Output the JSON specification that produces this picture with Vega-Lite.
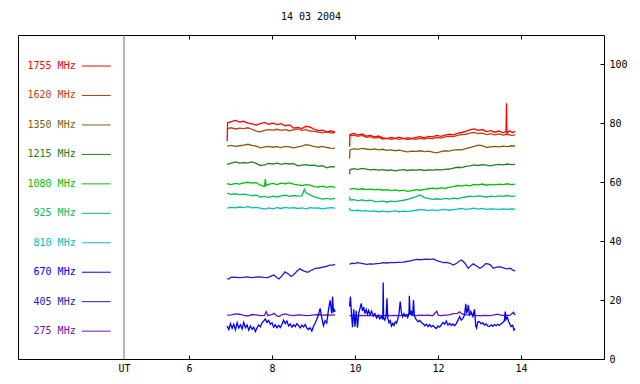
{
"$schema": "https://vega.github.io/schema/vega-lite/v6.json",
"width": 586, "height": 324,
"autosize": "none",
"padding": {"left": 18, "top": 35, "right": 36, "bottom": 25},
"background": "white",
"title": {"text": "14 03 2004", "font": "DejaVu Sans Mono", "fontSize": 10, "fontWeight": "normal", "color": "black", "anchor": "middle", "offset": 13},
"config": {"view": {"stroke": "black", "strokeWidth": 1}, "font": "DejaVu Sans Mono",
  "axis": {"labelFont": "DejaVu Sans Mono", "labelFontSize": 10, "labelColor": "black", "tickColor": "black", "domainColor": "black", "grid": false, "title": null}},
"datasets": {
"legend": [{"f":"1755 MHz"},{"f":"1620 MHz"},{"f":"1350 MHz"},{"f":"1215 MHz"},{"f":"1080 MHz"},{"f":"925 MHz"},{"f":"810 MHz"},{"f":"670 MHz"},{"f":"405 MHz"},{"f":"275 MHz"}],
"radio": [
{"f":"275 MHz","t":6.92,"v":14.9},{"f":"275 MHz","t":7.02,"v":15.0},{"f":"275 MHz","t":7.12,"v":15.3},{"f":"275 MHz","t":7.22,"v":15.2},{"f":"275 MHz","t":7.32,"v":14.8},{"f":"275 MHz","t":7.42,"v":14.6},{"f":"275 MHz","t":7.52,"v":15.1},{"f":"275 MHz","t":7.62,"v":15.0},{"f":"275 MHz","t":7.72,"v":14.7},{"f":"275 MHz","t":7.82,"v":14.8},{"f":"275 MHz","t":7.86,"v":16.1},{"f":"275 MHz","t":7.90,"v":14.8},{"f":"275 MHz","t":8.00,"v":15.1},{"f":"275 MHz","t":8.05,"v":15.5},{"f":"275 MHz","t":8.12,"v":14.6},{"f":"275 MHz","t":8.17,"v":14.4},{"f":"275 MHz","t":8.24,"v":15.0},{"f":"275 MHz","t":8.32,"v":15.3},{"f":"275 MHz","t":8.42,"v":14.9},{"f":"275 MHz","t":8.52,"v":14.7},{"f":"275 MHz","t":8.62,"v":15.0},{"f":"275 MHz","t":8.72,"v":14.9},{"f":"275 MHz","t":8.82,"v":14.7},{"f":"275 MHz","t":8.92,"v":14.8},{"f":"275 MHz","t":9.02,"v":15.0},{"f":"275 MHz","t":9.12,"v":15.1},{"f":"275 MHz","t":9.22,"v":14.9},{"f":"275 MHz","t":9.32,"v":15.0},{"f":"275 MHz","t":9.42,"v":14.9},{"f":"275 MHz","t":9.52,"v":15.0},
{"f":"275 MHz","t":9.7,"v":null},
{"f":"275 MHz","t":9.87,"v":14.7},{"f":"275 MHz","t":9.97,"v":14.8},{"f":"275 MHz","t":10.07,"v":14.7},{"f":"275 MHz","t":10.17,"v":14.8},{"f":"275 MHz","t":10.27,"v":14.7},{"f":"275 MHz","t":10.37,"v":14.8},{"f":"275 MHz","t":10.47,"v":14.7},{"f":"275 MHz","t":10.57,"v":14.8},{"f":"275 MHz","t":10.67,"v":14.7},{"f":"275 MHz","t":10.77,"v":14.8},{"f":"275 MHz","t":10.87,"v":14.7},{"f":"275 MHz","t":10.97,"v":14.8},{"f":"275 MHz","t":11.07,"v":14.7},{"f":"275 MHz","t":11.17,"v":14.8},{"f":"275 MHz","t":11.27,"v":14.9},{"f":"275 MHz","t":11.33,"v":16.0},{"f":"275 MHz","t":11.37,"v":14.8},{"f":"275 MHz","t":11.47,"v":14.7},{"f":"275 MHz","t":11.57,"v":14.9},{"f":"275 MHz","t":11.67,"v":14.8},{"f":"275 MHz","t":11.77,"v":14.9},{"f":"275 MHz","t":11.87,"v":14.7},{"f":"275 MHz","t":11.97,"v":16.2},{"f":"275 MHz","t":12.01,"v":14.8},{"f":"275 MHz","t":12.07,"v":14.7},{"f":"275 MHz","t":12.17,"v":14.9},{"f":"275 MHz","t":12.27,"v":15.0},{"f":"275 MHz","t":12.37,"v":15.4},{"f":"275 MHz","t":12.47,"v":15.5},{"f":"275 MHz","t":12.52,"v":16.0},{"f":"275 MHz","t":12.57,"v":15.4},{"f":"275 MHz","t":12.67,"v":15.0},{"f":"275 MHz","t":12.75,"v":15.1},{"f":"275 MHz","t":12.79,"v":16.2},{"f":"275 MHz","t":12.83,"v":15.0},{"f":"275 MHz","t":12.93,"v":14.7},{"f":"275 MHz","t":13.03,"v":14.7},{"f":"275 MHz","t":13.13,"v":14.8},{"f":"275 MHz","t":13.23,"v":14.7},{"f":"275 MHz","t":13.33,"v":14.9},{"f":"275 MHz","t":13.43,"v":15.2},{"f":"275 MHz","t":13.53,"v":14.8},{"f":"275 MHz","t":13.63,"v":14.9},{"f":"275 MHz","t":13.73,"v":14.8},{"f":"275 MHz","t":13.82,"v":15.9},{"f":"275 MHz","t":13.86,"v":14.9},

{"f":"405 MHz","t":6.92,"v":27.2},{"f":"405 MHz","t":6.97,"v":27.2},{"f":"405 MHz","t":7.00,"v":27.7},{"f":"405 MHz","t":7.10,"v":27.8},{"f":"405 MHz","t":7.20,"v":27.6},{"f":"405 MHz","t":7.30,"v":27.7},{"f":"405 MHz","t":7.40,"v":27.9},{"f":"405 MHz","t":7.50,"v":27.6},{"f":"405 MHz","t":7.60,"v":27.8},{"f":"405 MHz","t":7.70,"v":27.9},{"f":"405 MHz","t":7.80,"v":27.7},{"f":"405 MHz","t":7.90,"v":27.6},{"f":"405 MHz","t":8.00,"v":28.3},{"f":"405 MHz","t":8.05,"v":28.5},{"f":"405 MHz","t":8.12,"v":27.6},{"f":"405 MHz","t":8.17,"v":27.2},{"f":"405 MHz","t":8.24,"v":28.2},{"f":"405 MHz","t":8.31,"v":29.6},{"f":"405 MHz","t":8.38,"v":29.0},{"f":"405 MHz","t":8.46,"v":28.0},{"f":"405 MHz","t":8.52,"v":28.6},{"f":"405 MHz","t":8.60,"v":29.8},{"f":"405 MHz","t":8.67,"v":30.6},{"f":"405 MHz","t":8.76,"v":29.9},{"f":"405 MHz","t":8.86,"v":29.4},{"f":"405 MHz","t":8.96,"v":30.2},{"f":"405 MHz","t":9.05,"v":30.8},{"f":"405 MHz","t":9.14,"v":30.9},{"f":"405 MHz","t":9.22,"v":31.2},{"f":"405 MHz","t":9.30,"v":31.4},{"f":"405 MHz","t":9.39,"v":31.9},{"f":"405 MHz","t":9.46,"v":31.9},{"f":"405 MHz","t":9.52,"v":32.1},
{"f":"405 MHz","t":9.7,"v":null},
{"f":"405 MHz","t":9.87,"v":32.1},{"f":"405 MHz","t":9.93,"v":32.5},{"f":"405 MHz","t":10.00,"v":32.4},{"f":"405 MHz","t":10.04,"v":32.7},{"f":"405 MHz","t":10.10,"v":32.6},{"f":"405 MHz","t":10.16,"v":32.5},{"f":"405 MHz","t":10.22,"v":32.3},{"f":"405 MHz","t":10.28,"v":32.1},{"f":"405 MHz","t":10.36,"v":32.3},{"f":"405 MHz","t":10.44,"v":32.2},{"f":"405 MHz","t":10.52,"v":32.4},{"f":"405 MHz","t":10.60,"v":32.5},{"f":"405 MHz","t":10.68,"v":32.7},{"f":"405 MHz","t":10.76,"v":32.6},{"f":"405 MHz","t":10.85,"v":32.7},{"f":"405 MHz","t":10.95,"v":32.7},{"f":"405 MHz","t":11.05,"v":32.8},{"f":"405 MHz","t":11.15,"v":32.9},{"f":"405 MHz","t":11.25,"v":33.1},{"f":"405 MHz","t":11.33,"v":33.3},{"f":"405 MHz","t":11.41,"v":33.6},{"f":"405 MHz","t":11.49,"v":33.8},{"f":"405 MHz","t":11.57,"v":33.7},{"f":"405 MHz","t":11.65,"v":33.8},{"f":"405 MHz","t":11.73,"v":33.9},{"f":"405 MHz","t":11.81,"v":33.8},{"f":"405 MHz","t":11.89,"v":34.0},{"f":"405 MHz","t":11.97,"v":33.4},{"f":"405 MHz","t":12.05,"v":33.1},{"f":"405 MHz","t":12.13,"v":32.7},{"f":"405 MHz","t":12.21,"v":32.8},{"f":"405 MHz","t":12.29,"v":32.5},{"f":"405 MHz","t":12.37,"v":31.9},{"f":"405 MHz","t":12.45,"v":32.5},{"f":"405 MHz","t":12.51,"v":33.2},{"f":"405 MHz","t":12.57,"v":33.6},{"f":"405 MHz","t":12.65,"v":32.5},{"f":"405 MHz","t":12.73,"v":30.8},{"f":"405 MHz","t":12.79,"v":31.7},{"f":"405 MHz","t":12.85,"v":32.3},{"f":"405 MHz","t":12.93,"v":31.6},{"f":"405 MHz","t":13.01,"v":30.8},{"f":"405 MHz","t":13.09,"v":31.6},{"f":"405 MHz","t":13.15,"v":32.4},{"f":"405 MHz","t":13.21,"v":32.3},{"f":"405 MHz","t":13.27,"v":31.9},{"f":"405 MHz","t":13.33,"v":30.8},{"f":"405 MHz","t":13.41,"v":31.2},{"f":"405 MHz","t":13.50,"v":31.3},{"f":"405 MHz","t":13.58,"v":30.9},{"f":"405 MHz","t":13.66,"v":30.6},{"f":"405 MHz","t":13.74,"v":30.8},{"f":"405 MHz","t":13.82,"v":30.0},{"f":"405 MHz","t":13.86,"v":30.0},

{"f":"670 MHz","t":6.92,"v":11.2},{"f":"670 MHz","t":6.96,"v":10.0},{"f":"670 MHz","t":7.00,"v":12.0},{"f":"670 MHz","t":7.04,"v":10.4},{"f":"670 MHz","t":7.08,"v":11.8},{"f":"670 MHz","t":7.12,"v":9.9},{"f":"670 MHz","t":7.16,"v":12.3},{"f":"670 MHz","t":7.20,"v":10.5},{"f":"670 MHz","t":7.24,"v":11.6},{"f":"670 MHz","t":7.28,"v":10.2},{"f":"670 MHz","t":7.32,"v":12.4},{"f":"670 MHz","t":7.36,"v":10.6},{"f":"670 MHz","t":7.40,"v":11.5},{"f":"670 MHz","t":7.44,"v":9.8},{"f":"670 MHz","t":7.48,"v":11.2},{"f":"670 MHz","t":7.52,"v":10.1},{"f":"670 MHz","t":7.56,"v":10.8},{"f":"670 MHz","t":7.60,"v":9.3},{"f":"670 MHz","t":7.64,"v":10.6},{"f":"670 MHz","t":7.68,"v":11.5},{"f":"670 MHz","t":7.72,"v":10.9},{"f":"670 MHz","t":7.76,"v":12.3},{"f":"670 MHz","t":7.80,"v":12.9},{"f":"670 MHz","t":7.84,"v":13.6},{"f":"670 MHz","t":7.88,"v":12.4},{"f":"670 MHz","t":7.92,"v":13.1},{"f":"670 MHz","t":7.96,"v":11.8},{"f":"670 MHz","t":8.00,"v":12.3},{"f":"670 MHz","t":8.04,"v":10.8},{"f":"670 MHz","t":8.08,"v":11.6},{"f":"670 MHz","t":8.12,"v":10.6},{"f":"670 MHz","t":8.16,"v":11.4},{"f":"670 MHz","t":8.20,"v":10.7},{"f":"670 MHz","t":8.24,"v":11.8},{"f":"670 MHz","t":8.28,"v":13.2},{"f":"670 MHz","t":8.32,"v":12.0},{"f":"670 MHz","t":8.36,"v":12.9},{"f":"670 MHz","t":8.40,"v":11.2},{"f":"670 MHz","t":8.44,"v":11.9},{"f":"670 MHz","t":8.48,"v":10.8},{"f":"670 MHz","t":8.52,"v":11.6},{"f":"670 MHz","t":8.56,"v":11.0},{"f":"670 MHz","t":8.60,"v":12.0},{"f":"670 MHz","t":8.64,"v":11.3},{"f":"670 MHz","t":8.68,"v":10.6},{"f":"670 MHz","t":8.72,"v":11.5},{"f":"670 MHz","t":8.76,"v":10.9},{"f":"670 MHz","t":8.80,"v":11.7},{"f":"670 MHz","t":8.84,"v":10.5},{"f":"670 MHz","t":8.88,"v":10.0},{"f":"670 MHz","t":8.92,"v":10.6},{"f":"670 MHz","t":8.96,"v":9.5},{"f":"670 MHz","t":9.00,"v":11.1},{"f":"670 MHz","t":9.04,"v":12.2},{"f":"670 MHz","t":9.08,"v":13.5},{"f":"670 MHz","t":9.12,"v":15.0},{"f":"670 MHz","t":9.16,"v":17.2},{"f":"670 MHz","t":9.20,"v":14.0},{"f":"670 MHz","t":9.24,"v":11.3},{"f":"670 MHz","t":9.28,"v":13.0},{"f":"670 MHz","t":9.32,"v":12.2},{"f":"670 MHz","t":9.36,"v":16.6},{"f":"670 MHz","t":9.40,"v":19.9},{"f":"670 MHz","t":9.44,"v":15.5},{"f":"670 MHz","t":9.46,"v":21.2},{"f":"670 MHz","t":9.48,"v":15.8},{"f":"670 MHz","t":9.50,"v":17.0},{"f":"670 MHz","t":9.52,"v":16.0},
{"f":"670 MHz","t":9.7,"v":null},
{"f":"670 MHz","t":9.87,"v":17.8},{"f":"670 MHz","t":9.89,"v":21.2},{"f":"670 MHz","t":9.91,"v":16.5},{"f":"670 MHz","t":9.94,"v":10.8},{"f":"670 MHz","t":9.97,"v":16.9},{"f":"670 MHz","t":10.00,"v":11.0},{"f":"670 MHz","t":10.03,"v":16.4},{"f":"670 MHz","t":10.06,"v":10.6},{"f":"670 MHz","t":10.09,"v":15.5},{"f":"670 MHz","t":10.12,"v":17.2},{"f":"670 MHz","t":10.15,"v":18.9},{"f":"670 MHz","t":10.18,"v":16.3},{"f":"670 MHz","t":10.21,"v":17.6},{"f":"670 MHz","t":10.24,"v":15.4},{"f":"670 MHz","t":10.27,"v":16.8},{"f":"670 MHz","t":10.30,"v":15.2},{"f":"670 MHz","t":10.33,"v":16.5},{"f":"670 MHz","t":10.36,"v":15.0},{"f":"670 MHz","t":10.40,"v":16.3},{"f":"670 MHz","t":10.44,"v":14.6},{"f":"670 MHz","t":10.48,"v":15.4},{"f":"670 MHz","t":10.52,"v":13.9},{"f":"670 MHz","t":10.56,"v":14.8},{"f":"670 MHz","t":10.60,"v":13.6},{"f":"670 MHz","t":10.64,"v":14.5},{"f":"670 MHz","t":10.67,"v":13.4},{"f":"670 MHz","t":10.68,"v":26.0},{"f":"670 MHz","t":10.69,"v":14.0},{"f":"670 MHz","t":10.72,"v":13.2},{"f":"670 MHz","t":10.75,"v":14.6},{"f":"670 MHz","t":10.77,"v":20.6},{"f":"670 MHz","t":10.79,"v":13.9},{"f":"670 MHz","t":10.82,"v":12.3},{"f":"670 MHz","t":10.85,"v":13.0},{"f":"670 MHz","t":10.88,"v":11.2},{"f":"670 MHz","t":10.91,"v":12.1},{"f":"670 MHz","t":10.94,"v":11.4},{"f":"670 MHz","t":10.97,"v":12.6},{"f":"670 MHz","t":11.00,"v":12.2},{"f":"670 MHz","t":11.03,"v":13.5},{"f":"670 MHz","t":11.06,"v":15.4},{"f":"670 MHz","t":11.09,"v":19.5},{"f":"670 MHz","t":11.12,"v":15.6},{"f":"670 MHz","t":11.15,"v":14.3},{"f":"670 MHz","t":11.18,"v":15.4},{"f":"670 MHz","t":11.21,"v":14.5},{"f":"670 MHz","t":11.24,"v":15.0},{"f":"670 MHz","t":11.27,"v":14.1},{"f":"670 MHz","t":11.30,"v":15.2},{"f":"670 MHz","t":11.31,"v":21.5},{"f":"670 MHz","t":11.33,"v":15.0},{"f":"670 MHz","t":11.36,"v":16.1},{"f":"670 MHz","t":11.39,"v":14.9},{"f":"670 MHz","t":11.41,"v":20.0},{"f":"670 MHz","t":11.43,"v":14.8},{"f":"670 MHz","t":11.46,"v":13.7},{"f":"670 MHz","t":11.49,"v":13.2},{"f":"670 MHz","t":11.52,"v":12.6},{"f":"670 MHz","t":11.56,"v":13.1},{"f":"670 MHz","t":11.60,"v":12.4},{"f":"670 MHz","t":11.64,"v":12.0},{"f":"670 MHz","t":11.68,"v":11.3},{"f":"670 MHz","t":11.72,"v":11.8},{"f":"670 MHz","t":11.76,"v":11.0},{"f":"670 MHz","t":11.80,"v":11.7},{"f":"670 MHz","t":11.84,"v":10.9},{"f":"670 MHz","t":11.88,"v":11.4},{"f":"670 MHz","t":11.92,"v":10.7},{"f":"670 MHz","t":11.96,"v":10.4},{"f":"670 MHz","t":12.00,"v":11.2},{"f":"670 MHz","t":12.04,"v":10.8},{"f":"670 MHz","t":12.08,"v":11.6},{"f":"670 MHz","t":12.12,"v":12.4},{"f":"670 MHz","t":12.16,"v":11.8},{"f":"670 MHz","t":12.20,"v":12.9},{"f":"670 MHz","t":12.24,"v":11.5},{"f":"670 MHz","t":12.28,"v":12.1},{"f":"670 MHz","t":12.32,"v":11.4},{"f":"670 MHz","t":12.36,"v":11.9},{"f":"670 MHz","t":12.40,"v":11.3},{"f":"670 MHz","t":12.44,"v":12.0},{"f":"670 MHz","t":12.48,"v":13.1},{"f":"670 MHz","t":12.52,"v":14.4},{"f":"670 MHz","t":12.56,"v":13.2},{"f":"670 MHz","t":12.60,"v":13.8},{"f":"670 MHz","t":12.64,"v":15.0},{"f":"670 MHz","t":12.67,"v":18.7},{"f":"670 MHz","t":12.69,"v":15.5},{"f":"670 MHz","t":12.71,"v":16.2},{"f":"670 MHz","t":12.73,"v":18.3},{"f":"670 MHz","t":12.76,"v":14.9},{"f":"670 MHz","t":12.80,"v":15.6},{"f":"670 MHz","t":12.84,"v":14.4},{"f":"670 MHz","t":12.88,"v":16.9},{"f":"670 MHz","t":12.91,"v":11.2},{"f":"670 MHz","t":12.93,"v":10.5},{"f":"670 MHz","t":12.96,"v":12.6},{"f":"670 MHz","t":13.00,"v":12.7},{"f":"670 MHz","t":13.04,"v":11.9},{"f":"670 MHz","t":13.08,"v":12.3},{"f":"670 MHz","t":13.12,"v":11.5},{"f":"670 MHz","t":13.16,"v":11.9},{"f":"670 MHz","t":13.20,"v":11.2},{"f":"670 MHz","t":13.24,"v":11.0},{"f":"670 MHz","t":13.28,"v":11.6},{"f":"670 MHz","t":13.32,"v":11.1},{"f":"670 MHz","t":13.36,"v":11.7},{"f":"670 MHz","t":13.40,"v":11.3},{"f":"670 MHz","t":13.44,"v":11.8},{"f":"670 MHz","t":13.48,"v":11.4},{"f":"670 MHz","t":13.52,"v":12.0},{"f":"670 MHz","t":13.56,"v":12.3},{"f":"670 MHz","t":13.60,"v":13.0},{"f":"670 MHz","t":13.62,"v":16.1},{"f":"670 MHz","t":13.64,"v":13.4},{"f":"670 MHz","t":13.67,"v":14.2},{"f":"670 MHz","t":13.70,"v":12.8},{"f":"670 MHz","t":13.73,"v":11.9},{"f":"670 MHz","t":13.76,"v":11.0},{"f":"670 MHz","t":13.80,"v":11.4},{"f":"670 MHz","t":13.83,"v":9.8},{"f":"670 MHz","t":13.86,"v":10.3},

{"f":"810 MHz","t":6.92,"v":51.2},{"f":"810 MHz","t":7.02,"v":51.5},{"f":"810 MHz","t":7.12,"v":51.3},{"f":"810 MHz","t":7.22,"v":51.6},{"f":"810 MHz","t":7.32,"v":51.4},{"f":"810 MHz","t":7.42,"v":51.7},{"f":"810 MHz","t":7.52,"v":51.3},{"f":"810 MHz","t":7.62,"v":51.5},{"f":"810 MHz","t":7.72,"v":51.2},{"f":"810 MHz","t":7.82,"v":50.9},{"f":"810 MHz","t":7.92,"v":51.3},{"f":"810 MHz","t":8.02,"v":51.0},{"f":"810 MHz","t":8.12,"v":51.4},{"f":"810 MHz","t":8.22,"v":51.1},{"f":"810 MHz","t":8.32,"v":51.5},{"f":"810 MHz","t":8.42,"v":51.2},{"f":"810 MHz","t":8.52,"v":51.4},{"f":"810 MHz","t":8.62,"v":51.1},{"f":"810 MHz","t":8.72,"v":51.3},{"f":"810 MHz","t":8.82,"v":51.0},{"f":"810 MHz","t":8.92,"v":51.4},{"f":"810 MHz","t":9.02,"v":51.2},{"f":"810 MHz","t":9.12,"v":51.3},{"f":"810 MHz","t":9.22,"v":51.0},{"f":"810 MHz","t":9.32,"v":51.2},{"f":"810 MHz","t":9.42,"v":51.4},{"f":"810 MHz","t":9.52,"v":51.2},
{"f":"810 MHz","t":9.7,"v":null},
{"f":"810 MHz","t":9.87,"v":51.3},{"f":"810 MHz","t":9.88,"v":50.6},{"f":"810 MHz","t":9.97,"v":50.4},{"f":"810 MHz","t":10.07,"v":50.5},{"f":"810 MHz","t":10.17,"v":50.2},{"f":"810 MHz","t":10.27,"v":50.4},{"f":"810 MHz","t":10.37,"v":50.1},{"f":"810 MHz","t":10.47,"v":50.3},{"f":"810 MHz","t":10.57,"v":50.0},{"f":"810 MHz","t":10.67,"v":50.2},{"f":"810 MHz","t":10.77,"v":50.0},{"f":"810 MHz","t":10.87,"v":50.1},{"f":"810 MHz","t":10.97,"v":50.3},{"f":"810 MHz","t":11.07,"v":50.0},{"f":"810 MHz","t":11.17,"v":50.2},{"f":"810 MHz","t":11.27,"v":50.1},{"f":"810 MHz","t":11.37,"v":50.3},{"f":"810 MHz","t":11.47,"v":50.5},{"f":"810 MHz","t":11.57,"v":50.7},{"f":"810 MHz","t":11.67,"v":50.6},{"f":"810 MHz","t":11.77,"v":50.4},{"f":"810 MHz","t":11.87,"v":50.6},{"f":"810 MHz","t":11.97,"v":50.4},{"f":"810 MHz","t":12.07,"v":50.6},{"f":"810 MHz","t":12.17,"v":50.8},{"f":"810 MHz","t":12.27,"v":50.5},{"f":"810 MHz","t":12.37,"v":50.7},{"f":"810 MHz","t":12.47,"v":50.9},{"f":"810 MHz","t":12.57,"v":51.1},{"f":"810 MHz","t":12.67,"v":50.8},{"f":"810 MHz","t":12.77,"v":51.0},{"f":"810 MHz","t":12.87,"v":51.2},{"f":"810 MHz","t":12.97,"v":50.9},{"f":"810 MHz","t":13.07,"v":51.1},{"f":"810 MHz","t":13.17,"v":50.8},{"f":"810 MHz","t":13.27,"v":51.0},{"f":"810 MHz","t":13.37,"v":50.9},{"f":"810 MHz","t":13.47,"v":50.8},{"f":"810 MHz","t":13.57,"v":51.0},{"f":"810 MHz","t":13.67,"v":50.8},{"f":"810 MHz","t":13.77,"v":51.0},{"f":"810 MHz","t":13.86,"v":50.9},

{"f":"925 MHz","t":6.92,"v":56.2},{"f":"925 MHz","t":7.02,"v":55.9},{"f":"925 MHz","t":7.12,"v":56.1},{"f":"925 MHz","t":7.22,"v":55.8},{"f":"925 MHz","t":7.32,"v":56.0},{"f":"925 MHz","t":7.42,"v":55.7},{"f":"925 MHz","t":7.52,"v":55.5},{"f":"925 MHz","t":7.62,"v":55.6},{"f":"925 MHz","t":7.72,"v":55.0},{"f":"925 MHz","t":7.82,"v":55.2},{"f":"925 MHz","t":7.92,"v":54.9},{"f":"925 MHz","t":8.02,"v":55.3},{"f":"925 MHz","t":8.12,"v":55.0},{"f":"925 MHz","t":8.22,"v":55.4},{"f":"925 MHz","t":8.32,"v":55.6},{"f":"925 MHz","t":8.42,"v":55.2},{"f":"925 MHz","t":8.52,"v":55.5},{"f":"925 MHz","t":8.62,"v":55.3},{"f":"925 MHz","t":8.72,"v":55.4},{"f":"925 MHz","t":8.78,"v":57.6},{"f":"925 MHz","t":8.82,"v":56.4},{"f":"925 MHz","t":8.92,"v":55.7},{"f":"925 MHz","t":9.02,"v":55.0},{"f":"925 MHz","t":9.12,"v":54.6},{"f":"925 MHz","t":9.22,"v":54.3},{"f":"925 MHz","t":9.32,"v":54.5},{"f":"925 MHz","t":9.42,"v":54.3},{"f":"925 MHz","t":9.52,"v":54.5},
{"f":"925 MHz","t":9.7,"v":null},
{"f":"925 MHz","t":9.87,"v":55.1},{"f":"925 MHz","t":9.88,"v":54.0},{"f":"925 MHz","t":9.97,"v":54.1},{"f":"925 MHz","t":10.07,"v":53.8},{"f":"925 MHz","t":10.17,"v":54.0},{"f":"925 MHz","t":10.27,"v":53.7},{"f":"925 MHz","t":10.37,"v":53.9},{"f":"925 MHz","t":10.47,"v":53.5},{"f":"925 MHz","t":10.57,"v":53.4},{"f":"925 MHz","t":10.67,"v":53.6},{"f":"925 MHz","t":10.77,"v":53.3},{"f":"925 MHz","t":10.87,"v":53.6},{"f":"925 MHz","t":10.97,"v":53.4},{"f":"925 MHz","t":11.07,"v":53.7},{"f":"925 MHz","t":11.17,"v":53.9},{"f":"925 MHz","t":11.27,"v":54.2},{"f":"925 MHz","t":11.37,"v":54.6},{"f":"925 MHz","t":11.47,"v":55.1},{"f":"925 MHz","t":11.57,"v":55.7},{"f":"925 MHz","t":11.62,"v":55.3},{"f":"925 MHz","t":11.67,"v":54.8},{"f":"925 MHz","t":11.77,"v":54.5},{"f":"925 MHz","t":11.87,"v":54.2},{"f":"925 MHz","t":11.97,"v":54.4},{"f":"925 MHz","t":12.07,"v":54.2},{"f":"925 MHz","t":12.17,"v":54.5},{"f":"925 MHz","t":12.27,"v":54.3},{"f":"925 MHz","t":12.37,"v":54.6},{"f":"925 MHz","t":12.47,"v":54.4},{"f":"925 MHz","t":12.57,"v":54.8},{"f":"925 MHz","t":12.67,"v":55.0},{"f":"925 MHz","t":12.77,"v":55.3},{"f":"925 MHz","t":12.87,"v":55.1},{"f":"925 MHz","t":12.97,"v":55.4},{"f":"925 MHz","t":13.07,"v":55.2},{"f":"925 MHz","t":13.17,"v":55.0},{"f":"925 MHz","t":13.27,"v":55.3},{"f":"925 MHz","t":13.37,"v":55.1},{"f":"925 MHz","t":13.47,"v":55.4},{"f":"925 MHz","t":13.57,"v":55.2},{"f":"925 MHz","t":13.67,"v":55.5},{"f":"925 MHz","t":13.77,"v":55.2},{"f":"925 MHz","t":13.86,"v":55.4},

{"f":"1080 MHz","t":6.92,"v":59.5},{"f":"1080 MHz","t":7.02,"v":59.2},{"f":"1080 MHz","t":7.12,"v":59.6},{"f":"1080 MHz","t":7.22,"v":59.4},{"f":"1080 MHz","t":7.32,"v":59.8},{"f":"1080 MHz","t":7.42,"v":60.0},{"f":"1080 MHz","t":7.52,"v":59.7},{"f":"1080 MHz","t":7.62,"v":59.9},{"f":"1080 MHz","t":7.72,"v":59.0},{"f":"1080 MHz","t":7.82,"v":58.6},{"f":"1080 MHz","t":7.84,"v":61.1},{"f":"1080 MHz","t":7.86,"v":58.9},{"f":"1080 MHz","t":7.92,"v":59.3},{"f":"1080 MHz","t":8.02,"v":59.6},{"f":"1080 MHz","t":8.12,"v":59.2},{"f":"1080 MHz","t":8.22,"v":59.7},{"f":"1080 MHz","t":8.32,"v":59.5},{"f":"1080 MHz","t":8.42,"v":59.8},{"f":"1080 MHz","t":8.52,"v":59.4},{"f":"1080 MHz","t":8.62,"v":59.1},{"f":"1080 MHz","t":8.72,"v":58.9},{"f":"1080 MHz","t":8.82,"v":59.2},{"f":"1080 MHz","t":8.92,"v":59.0},{"f":"1080 MHz","t":9.02,"v":58.5},{"f":"1080 MHz","t":9.12,"v":58.4},{"f":"1080 MHz","t":9.22,"v":58.7},{"f":"1080 MHz","t":9.32,"v":58.3},{"f":"1080 MHz","t":9.42,"v":58.6},{"f":"1080 MHz","t":9.52,"v":58.3},
{"f":"1080 MHz","t":9.7,"v":null},
{"f":"1080 MHz","t":9.87,"v":57.6},{"f":"1080 MHz","t":9.97,"v":57.9},{"f":"1080 MHz","t":10.07,"v":57.6},{"f":"1080 MHz","t":10.17,"v":57.8},{"f":"1080 MHz","t":10.27,"v":57.5},{"f":"1080 MHz","t":10.37,"v":57.7},{"f":"1080 MHz","t":10.47,"v":57.4},{"f":"1080 MHz","t":10.57,"v":57.6},{"f":"1080 MHz","t":10.67,"v":57.3},{"f":"1080 MHz","t":10.77,"v":57.5},{"f":"1080 MHz","t":10.87,"v":57.2},{"f":"1080 MHz","t":10.97,"v":57.4},{"f":"1080 MHz","t":11.07,"v":57.1},{"f":"1080 MHz","t":11.17,"v":57.3},{"f":"1080 MHz","t":11.27,"v":56.9},{"f":"1080 MHz","t":11.37,"v":57.2},{"f":"1080 MHz","t":11.47,"v":57.5},{"f":"1080 MHz","t":11.57,"v":57.3},{"f":"1080 MHz","t":11.67,"v":57.6},{"f":"1080 MHz","t":11.77,"v":57.8},{"f":"1080 MHz","t":11.87,"v":58.0},{"f":"1080 MHz","t":11.97,"v":57.8},{"f":"1080 MHz","t":12.07,"v":58.1},{"f":"1080 MHz","t":12.17,"v":57.9},{"f":"1080 MHz","t":12.27,"v":58.3},{"f":"1080 MHz","t":12.37,"v":58.5},{"f":"1080 MHz","t":12.47,"v":58.9},{"f":"1080 MHz","t":12.57,"v":58.7},{"f":"1080 MHz","t":12.67,"v":59.0},{"f":"1080 MHz","t":12.77,"v":58.8},{"f":"1080 MHz","t":12.87,"v":59.3},{"f":"1080 MHz","t":12.97,"v":59.1},{"f":"1080 MHz","t":13.07,"v":59.4},{"f":"1080 MHz","t":13.17,"v":59.0},{"f":"1080 MHz","t":13.27,"v":59.3},{"f":"1080 MHz","t":13.37,"v":59.1},{"f":"1080 MHz","t":13.47,"v":59.4},{"f":"1080 MHz","t":13.57,"v":59.2},{"f":"1080 MHz","t":13.67,"v":59.5},{"f":"1080 MHz","t":13.77,"v":59.2},{"f":"1080 MHz","t":13.86,"v":59.4},

{"f":"1215 MHz","t":6.92,"v":66.1},{"f":"1215 MHz","t":7.02,"v":66.5},{"f":"1215 MHz","t":7.12,"v":66.9},{"f":"1215 MHz","t":7.22,"v":66.5},{"f":"1215 MHz","t":7.32,"v":66.7},{"f":"1215 MHz","t":7.42,"v":66.6},{"f":"1215 MHz","t":7.52,"v":66.9},{"f":"1215 MHz","t":7.62,"v":66.4},{"f":"1215 MHz","t":7.72,"v":65.7},{"f":"1215 MHz","t":7.82,"v":65.9},{"f":"1215 MHz","t":7.92,"v":66.4},{"f":"1215 MHz","t":8.02,"v":66.2},{"f":"1215 MHz","t":8.12,"v":66.5},{"f":"1215 MHz","t":8.22,"v":66.1},{"f":"1215 MHz","t":8.32,"v":66.4},{"f":"1215 MHz","t":8.42,"v":66.2},{"f":"1215 MHz","t":8.52,"v":66.3},{"f":"1215 MHz","t":8.62,"v":65.6},{"f":"1215 MHz","t":8.72,"v":65.8},{"f":"1215 MHz","t":8.82,"v":66.0},{"f":"1215 MHz","t":8.92,"v":65.7},{"f":"1215 MHz","t":9.02,"v":65.8},{"f":"1215 MHz","t":9.12,"v":65.4},{"f":"1215 MHz","t":9.22,"v":65.6},{"f":"1215 MHz","t":9.32,"v":64.9},{"f":"1215 MHz","t":9.42,"v":65.3},{"f":"1215 MHz","t":9.52,"v":65.2},
{"f":"1215 MHz","t":9.7,"v":null},
{"f":"1215 MHz","t":9.87,"v":62.7},{"f":"1215 MHz","t":9.88,"v":64.3},{"f":"1215 MHz","t":9.97,"v":64.6},{"f":"1215 MHz","t":10.07,"v":64.4},{"f":"1215 MHz","t":10.17,"v":64.7},{"f":"1215 MHz","t":10.27,"v":64.5},{"f":"1215 MHz","t":10.37,"v":64.2},{"f":"1215 MHz","t":10.47,"v":64.4},{"f":"1215 MHz","t":10.57,"v":64.1},{"f":"1215 MHz","t":10.67,"v":64.3},{"f":"1215 MHz","t":10.77,"v":64.0},{"f":"1215 MHz","t":10.87,"v":64.2},{"f":"1215 MHz","t":10.97,"v":63.9},{"f":"1215 MHz","t":11.07,"v":64.1},{"f":"1215 MHz","t":11.17,"v":64.3},{"f":"1215 MHz","t":11.27,"v":64.0},{"f":"1215 MHz","t":11.37,"v":64.2},{"f":"1215 MHz","t":11.47,"v":64.1},{"f":"1215 MHz","t":11.57,"v":64.3},{"f":"1215 MHz","t":11.67,"v":64.0},{"f":"1215 MHz","t":11.77,"v":64.2},{"f":"1215 MHz","t":11.87,"v":64.1},{"f":"1215 MHz","t":11.97,"v":64.3},{"f":"1215 MHz","t":12.07,"v":64.2},{"f":"1215 MHz","t":12.17,"v":64.4},{"f":"1215 MHz","t":12.27,"v":64.5},{"f":"1215 MHz","t":12.37,"v":64.8},{"f":"1215 MHz","t":12.47,"v":65.1},{"f":"1215 MHz","t":12.57,"v":65.0},{"f":"1215 MHz","t":12.67,"v":65.4},{"f":"1215 MHz","t":12.77,"v":65.6},{"f":"1215 MHz","t":12.87,"v":65.9},{"f":"1215 MHz","t":12.97,"v":65.7},{"f":"1215 MHz","t":13.07,"v":66.0},{"f":"1215 MHz","t":13.17,"v":65.8},{"f":"1215 MHz","t":13.27,"v":65.6},{"f":"1215 MHz","t":13.37,"v":65.9},{"f":"1215 MHz","t":13.47,"v":66.1},{"f":"1215 MHz","t":13.57,"v":65.9},{"f":"1215 MHz","t":13.67,"v":66.2},{"f":"1215 MHz","t":13.77,"v":66.0},{"f":"1215 MHz","t":13.86,"v":66.1},

{"f":"1350 MHz","t":6.92,"v":72.3},{"f":"1350 MHz","t":7.02,"v":72.5},{"f":"1350 MHz","t":7.12,"v":72.2},{"f":"1350 MHz","t":7.22,"v":72.4},{"f":"1350 MHz","t":7.32,"v":72.6},{"f":"1350 MHz","t":7.42,"v":72.9},{"f":"1350 MHz","t":7.52,"v":72.5},{"f":"1350 MHz","t":7.62,"v":72.3},{"f":"1350 MHz","t":7.72,"v":71.7},{"f":"1350 MHz","t":7.82,"v":72.0},{"f":"1350 MHz","t":7.92,"v":72.2},{"f":"1350 MHz","t":8.02,"v":71.9},{"f":"1350 MHz","t":8.12,"v":72.1},{"f":"1350 MHz","t":8.22,"v":71.8},{"f":"1350 MHz","t":8.32,"v":72.2},{"f":"1350 MHz","t":8.42,"v":72.0},{"f":"1350 MHz","t":8.52,"v":71.7},{"f":"1350 MHz","t":8.62,"v":72.0},{"f":"1350 MHz","t":8.72,"v":72.3},{"f":"1350 MHz","t":8.82,"v":72.8},{"f":"1350 MHz","t":8.92,"v":72.5},{"f":"1350 MHz","t":9.02,"v":72.1},{"f":"1350 MHz","t":9.12,"v":71.9},{"f":"1350 MHz","t":9.22,"v":72.2},{"f":"1350 MHz","t":9.32,"v":71.8},{"f":"1350 MHz","t":9.42,"v":71.6},{"f":"1350 MHz","t":9.52,"v":71.5},
{"f":"1350 MHz","t":9.7,"v":null},
{"f":"1350 MHz","t":9.87,"v":68.1},{"f":"1350 MHz","t":9.88,"v":71.0},{"f":"1350 MHz","t":9.97,"v":71.4},{"f":"1350 MHz","t":10.07,"v":71.2},{"f":"1350 MHz","t":10.17,"v":71.5},{"f":"1350 MHz","t":10.27,"v":71.3},{"f":"1350 MHz","t":10.37,"v":71.1},{"f":"1350 MHz","t":10.47,"v":71.3},{"f":"1350 MHz","t":10.57,"v":71.0},{"f":"1350 MHz","t":10.67,"v":71.2},{"f":"1350 MHz","t":10.77,"v":70.8},{"f":"1350 MHz","t":10.87,"v":71.0},{"f":"1350 MHz","t":10.97,"v":70.7},{"f":"1350 MHz","t":11.07,"v":70.9},{"f":"1350 MHz","t":11.17,"v":70.6},{"f":"1350 MHz","t":11.27,"v":70.3},{"f":"1350 MHz","t":11.37,"v":70.6},{"f":"1350 MHz","t":11.47,"v":70.5},{"f":"1350 MHz","t":11.57,"v":70.7},{"f":"1350 MHz","t":11.67,"v":70.4},{"f":"1350 MHz","t":11.77,"v":70.6},{"f":"1350 MHz","t":11.87,"v":70.2},{"f":"1350 MHz","t":11.97,"v":70.0},{"f":"1350 MHz","t":12.07,"v":70.4},{"f":"1350 MHz","t":12.17,"v":70.7},{"f":"1350 MHz","t":12.27,"v":70.6},{"f":"1350 MHz","t":12.37,"v":70.9},{"f":"1350 MHz","t":12.47,"v":71.1},{"f":"1350 MHz","t":12.57,"v":71.0},{"f":"1350 MHz","t":12.67,"v":71.4},{"f":"1350 MHz","t":12.77,"v":71.8},{"f":"1350 MHz","t":12.87,"v":72.2},{"f":"1350 MHz","t":12.97,"v":72.6},{"f":"1350 MHz","t":13.07,"v":72.4},{"f":"1350 MHz","t":13.17,"v":71.8},{"f":"1350 MHz","t":13.27,"v":72.0},{"f":"1350 MHz","t":13.37,"v":72.2},{"f":"1350 MHz","t":13.47,"v":72.0},{"f":"1350 MHz","t":13.57,"v":72.3},{"f":"1350 MHz","t":13.67,"v":72.1},{"f":"1350 MHz","t":13.77,"v":72.4},{"f":"1350 MHz","t":13.86,"v":72.3},

{"f":"1620 MHz","t":6.92,"v":78.2},{"f":"1620 MHz","t":7.02,"v":78.5},{"f":"1620 MHz","t":7.12,"v":78.1},{"f":"1620 MHz","t":7.22,"v":78.4},{"f":"1620 MHz","t":7.32,"v":78.2},{"f":"1620 MHz","t":7.42,"v":78.5},{"f":"1620 MHz","t":7.52,"v":78.0},{"f":"1620 MHz","t":7.62,"v":77.4},{"f":"1620 MHz","t":7.72,"v":77.1},{"f":"1620 MHz","t":7.82,"v":77.6},{"f":"1620 MHz","t":7.92,"v":77.9},{"f":"1620 MHz","t":8.02,"v":77.7},{"f":"1620 MHz","t":8.12,"v":78.0},{"f":"1620 MHz","t":8.22,"v":77.6},{"f":"1620 MHz","t":8.32,"v":77.9},{"f":"1620 MHz","t":8.42,"v":77.5},{"f":"1620 MHz","t":8.52,"v":77.8},{"f":"1620 MHz","t":8.62,"v":78.1},{"f":"1620 MHz","t":8.72,"v":77.6},{"f":"1620 MHz","t":8.82,"v":77.9},{"f":"1620 MHz","t":8.92,"v":77.4},{"f":"1620 MHz","t":9.02,"v":77.3},{"f":"1620 MHz","t":9.12,"v":77.0},{"f":"1620 MHz","t":9.22,"v":76.8},{"f":"1620 MHz","t":9.32,"v":77.1},{"f":"1620 MHz","t":9.42,"v":76.7},{"f":"1620 MHz","t":9.52,"v":76.9},
{"f":"1620 MHz","t":9.7,"v":null},
{"f":"1620 MHz","t":9.87,"v":75.8},{"f":"1620 MHz","t":9.97,"v":76.0},{"f":"1620 MHz","t":10.07,"v":75.6},{"f":"1620 MHz","t":10.17,"v":75.9},{"f":"1620 MHz","t":10.27,"v":75.3},{"f":"1620 MHz","t":10.37,"v":75.5},{"f":"1620 MHz","t":10.47,"v":75.0},{"f":"1620 MHz","t":10.57,"v":75.2},{"f":"1620 MHz","t":10.67,"v":74.7},{"f":"1620 MHz","t":10.77,"v":74.9},{"f":"1620 MHz","t":10.87,"v":74.6},{"f":"1620 MHz","t":10.97,"v":74.9},{"f":"1620 MHz","t":11.07,"v":74.6},{"f":"1620 MHz","t":11.17,"v":74.9},{"f":"1620 MHz","t":11.27,"v":74.5},{"f":"1620 MHz","t":11.37,"v":74.8},{"f":"1620 MHz","t":11.47,"v":74.6},{"f":"1620 MHz","t":11.57,"v":74.9},{"f":"1620 MHz","t":11.67,"v":74.7},{"f":"1620 MHz","t":11.77,"v":75.0},{"f":"1620 MHz","t":11.87,"v":74.8},{"f":"1620 MHz","t":11.97,"v":75.2},{"f":"1620 MHz","t":12.07,"v":75.0},{"f":"1620 MHz","t":12.17,"v":75.4},{"f":"1620 MHz","t":12.27,"v":75.6},{"f":"1620 MHz","t":12.37,"v":75.5},{"f":"1620 MHz","t":12.47,"v":75.9},{"f":"1620 MHz","t":12.57,"v":76.2},{"f":"1620 MHz","t":12.67,"v":76.3},{"f":"1620 MHz","t":12.77,"v":76.7},{"f":"1620 MHz","t":12.87,"v":76.9},{"f":"1620 MHz","t":12.97,"v":76.5},{"f":"1620 MHz","t":13.07,"v":76.7},{"f":"1620 MHz","t":13.17,"v":76.2},{"f":"1620 MHz","t":13.27,"v":76.5},{"f":"1620 MHz","t":13.37,"v":76.1},{"f":"1620 MHz","t":13.47,"v":76.4},{"f":"1620 MHz","t":13.57,"v":76.0},{"f":"1620 MHz","t":13.67,"v":76.3},{"f":"1620 MHz","t":13.77,"v":75.9},{"f":"1620 MHz","t":13.86,"v":76.1},

{"f":"1755 MHz","t":6.92,"v":74.0},{"f":"1755 MHz","t":6.93,"v":80.2},{"f":"1755 MHz","t":7.02,"v":80.6},{"f":"1755 MHz","t":7.12,"v":81.0},{"f":"1755 MHz","t":7.22,"v":80.4},{"f":"1755 MHz","t":7.32,"v":80.7},{"f":"1755 MHz","t":7.42,"v":80.1},{"f":"1755 MHz","t":7.52,"v":79.8},{"f":"1755 MHz","t":7.62,"v":79.4},{"f":"1755 MHz","t":7.72,"v":79.9},{"f":"1755 MHz","t":7.82,"v":80.3},{"f":"1755 MHz","t":7.92,"v":79.7},{"f":"1755 MHz","t":8.02,"v":80.1},{"f":"1755 MHz","t":8.12,"v":79.6},{"f":"1755 MHz","t":8.22,"v":79.9},{"f":"1755 MHz","t":8.32,"v":79.2},{"f":"1755 MHz","t":8.42,"v":79.5},{"f":"1755 MHz","t":8.52,"v":78.4},{"f":"1755 MHz","t":8.62,"v":78.6},{"f":"1755 MHz","t":8.72,"v":78.2},{"f":"1755 MHz","t":8.82,"v":79.0},{"f":"1755 MHz","t":8.92,"v":78.7},{"f":"1755 MHz","t":9.02,"v":78.0},{"f":"1755 MHz","t":9.12,"v":77.5},{"f":"1755 MHz","t":9.22,"v":77.7},{"f":"1755 MHz","t":9.32,"v":77.1},{"f":"1755 MHz","t":9.42,"v":77.4},{"f":"1755 MHz","t":9.52,"v":77.0},
{"f":"1755 MHz","t":9.7,"v":null},
{"f":"1755 MHz","t":9.87,"v":72.1},{"f":"1755 MHz","t":9.88,"v":76.2},{"f":"1755 MHz","t":9.97,"v":76.6},{"f":"1755 MHz","t":10.07,"v":76.0},{"f":"1755 MHz","t":10.17,"v":76.4},{"f":"1755 MHz","t":10.27,"v":75.7},{"f":"1755 MHz","t":10.37,"v":75.9},{"f":"1755 MHz","t":10.47,"v":75.4},{"f":"1755 MHz","t":10.57,"v":75.7},{"f":"1755 MHz","t":10.67,"v":75.1},{"f":"1755 MHz","t":10.77,"v":74.8},{"f":"1755 MHz","t":10.87,"v":75.2},{"f":"1755 MHz","t":10.97,"v":74.9},{"f":"1755 MHz","t":11.07,"v":75.3},{"f":"1755 MHz","t":11.17,"v":74.8},{"f":"1755 MHz","t":11.27,"v":75.1},{"f":"1755 MHz","t":11.37,"v":74.9},{"f":"1755 MHz","t":11.47,"v":75.2},{"f":"1755 MHz","t":11.57,"v":75.5},{"f":"1755 MHz","t":11.67,"v":75.1},{"f":"1755 MHz","t":11.77,"v":75.6},{"f":"1755 MHz","t":11.87,"v":75.4},{"f":"1755 MHz","t":11.97,"v":75.9},{"f":"1755 MHz","t":12.07,"v":75.6},{"f":"1755 MHz","t":12.17,"v":76.0},{"f":"1755 MHz","t":12.27,"v":76.3},{"f":"1755 MHz","t":12.37,"v":76.1},{"f":"1755 MHz","t":12.47,"v":76.6},{"f":"1755 MHz","t":12.57,"v":76.9},{"f":"1755 MHz","t":12.67,"v":77.3},{"f":"1755 MHz","t":12.77,"v":77.8},{"f":"1755 MHz","t":12.87,"v":78.1},{"f":"1755 MHz","t":12.97,"v":77.6},{"f":"1755 MHz","t":13.07,"v":77.9},{"f":"1755 MHz","t":13.17,"v":77.2},{"f":"1755 MHz","t":13.27,"v":77.5},{"f":"1755 MHz","t":13.37,"v":77.0},{"f":"1755 MHz","t":13.47,"v":77.4},{"f":"1755 MHz","t":13.57,"v":76.8},{"f":"1755 MHz","t":13.64,"v":77.2},{"f":"1755 MHz","t":13.65,"v":86.8},{"f":"1755 MHz","t":13.66,"v":76.6},{"f":"1755 MHz","t":13.72,"v":77.5},{"f":"1755 MHz","t":13.79,"v":76.9},{"f":"1755 MHz","t":13.86,"v":77.2}
]},
"layer": [
{"data": {"values": [{"ut": 4.434}]},
 "mark": {"type": "rule", "color": "#6e6e6e", "strokeWidth": 1},
 "encoding": {"x": {"field": "ut", "type": "quantitative", "scale": {"domain": [1.88, 16], "nice": false, "zero": false},
   "axis": {"orient": "top", "values": [6, 8, 10, 12, 14], "labels": false, "tickSize": -4, "domain": false}}}},
{"data": {"name": "radio"},
 "mark": {"type": "line", "strokeWidth": 1.3, "invalid": "break-paths-show-domains"},
 "encoding": {
  "x": {"field": "t", "type": "quantitative", "scale": {"domain": [1.88, 16], "nice": false, "zero": false},
    "axis": {"orient": "bottom", "values": [4.434, 6, 8, 10, 12, 14], "tickSize": -4, "labelPadding": 8, "domain": false,
      "labelExpr": "datum.value < 5 ? 'UT' : format(datum.value, 'd')",
      "tickColor": {"condition": {"test": "datum.value < 5", "value": "transparent"}, "value": "black"}}},
  "y": {"field": "v", "type": "quantitative", "scale": {"domain": [0, 110], "nice": false},
    "axis": {"orient": "right", "values": [0, 20, 40, 60, 80, 100], "tickSize": -4, "labelPadding": 9, "domain": false}},
  "color": {"field": "f", "type": "nominal", "legend": null,
    "scale": {"domain": ["1755 MHz","1620 MHz","1350 MHz","1215 MHz","1080 MHz","925 MHz","810 MHz","670 MHz","405 MHz","275 MHz"],
      "range": ["#ff0000","#c04010","#806010","#208020","#00c000","#00c060","#00c0c0","#0000ff","#2020c0","#7010b0"]}},
  "order": {"field": "t", "type": "quantitative"}
 }},
{"data": {"name": "legend"},
 "mark": {"type": "rule", "strokeWidth": 1},
 "encoding": {
  "x": {"datum": 3.42, "type": "quantitative", "axis": null, "scale": {"domain": [1.88, 16], "nice": false, "zero": false}},
  "x2": {"datum": 4.114},
  "y": {"field": "f", "type": "nominal", "axis": null, "sort": null,
    "scale": {"type": "point", "domain": ["1755 MHz","1620 MHz","1350 MHz","1215 MHz","1080 MHz","925 MHz","810 MHz","670 MHz","405 MHz","275 MHz"], "padding": 1.037, "align": 0.527}},
  "color": {"field": "f", "type": "nominal", "legend": null}
 }},
{"data": {"name": "legend"},
 "mark": {"type": "text", "align": "right", "baseline": "middle", "font": "DejaVu Sans Mono", "fontSize": 10},
 "encoding": {
  "x": {"datum": 3.27, "type": "quantitative", "axis": null, "scale": {"domain": [1.88, 16], "nice": false, "zero": false}},
  "y": {"field": "f", "type": "nominal", "axis": null, "sort": null,
    "scale": {"type": "point", "domain": ["1755 MHz","1620 MHz","1350 MHz","1215 MHz","1080 MHz","925 MHz","810 MHz","670 MHz","405 MHz","275 MHz"], "padding": 1.037, "align": 0.527}},
  "text": {"field": "f", "type": "nominal"},
  "color": {"field": "f", "type": "nominal", "legend": null}
 }}
],
"resolve": {"scale": {"y": "independent"}, "axis": {"x": "independent", "y": "independent"}}
}
